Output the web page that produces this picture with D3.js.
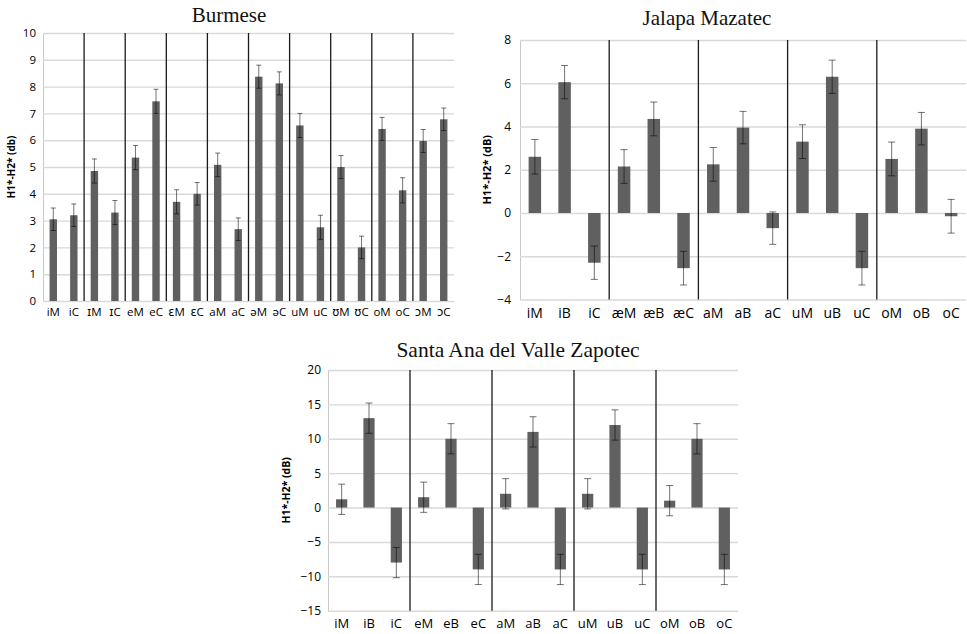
<!DOCTYPE html>
<html>
<head>
<meta charset="utf-8">
<script src="https://cdn.jsdelivr.net/npm/d3@7"></script>
<style>
  body { margin: 0; background: white; }
  svg { display: block; }
</style>
</head>
<body>
<div id="chart"></div>
<script>
// Burmese
var burCats = ["iM","iC","ɪM","ɪC","eM","eC","ɛM","ɛC","aM","aC","əM","əC","uM","uC","ʊM","ʊC","oM","oC","ɔM","ɔC"]
var burVals = [3.05, 3.2, 4.85, 3.3, 5.35, 7.45, 3.7, 4.0, 5.08, 2.68, 8.37, 8.12, 6.55, 2.75, 5.0, 2.0, 6.42, 4.13, 5.97, 6.78]
var burErr  = [0.42, 0.42, 0.45, 0.45, 0.45, 0.45, 0.45, 0.42, 0.44, 0.42, 0.43, 0.43, 0.45, 0.45, 0.43, 0.42, 0.43, 0.47, 0.43, 0.42]
var burTicks = [0, 1, 2, 3, 4, 5, 6, 7, 8, 9, 10]

// Jalapa Mazatec
var jalCats = ["iM","iB","iC","æM","æB","æC","aM","aB","aC","uM","uB","uC","oM","oB","oC"]
var jalVals = [2.6, 6.05, -2.3, 2.15, 4.35, -2.55, 2.25, 3.95, -0.7, 3.3, 6.3, -2.55, 2.5, 3.9, -0.15]
var jalErr  = [0.8, 0.77, 0.77, 0.78, 0.78, 0.78, 0.78, 0.75, 0.75, 0.78, 0.77, 0.78, 0.78, 0.75, 0.78]
var jalTicks = [-4, -2, 0, 2, 4, 6, 8]

// Santa Ana del Valle Zapotec
var sanCats = ["iM","iB","iC","eM","eB","eC","aM","aB","aC","uM","uB","uC","oM","oB","oC"]
var sanVals = [1.2, 13, -8, 1.5, 10, -9, 2, 11, -9, 2, 12, -9, 1, 10, -9]
var sanErr  = [2.2, 2.2, 2.2, 2.2, 2.2, 2.2, 2.2, 2.2, 2.2, 2.2, 2.2, 2.2, 2.2, 2.2, 2.2]
var sanTicks = [-15, -10, -5, 0, 5, 10, 15, 20]

var W = 967, H = 634
var svg = d3.select("#chart").append("svg").attr("width", W).attr("height", H)

var sansFont = "'Open Sans', 'DejaVu Sans', sans-serif"
var serifFont = "'Liberation Serif', 'Times New Roman', serif"

function drawPanel(p) {
    var g = svg.append("g")
    var data = p.cats.map(function(c, i) { return { cat: c, v: p.vals[i], e: p.errs[i] } })

    var x = d3.scaleBand().domain(p.cats).range([p.left, p.right]).padding(0)
    var y = d3.scaleLinear().domain(p.yDomain).range([p.bottom, p.top])

    // gridlines + tick labels
    var yAxis = d3.axisLeft(y)
        .tickValues(p.ticks)
        .tickSizeInner(-(p.right - p.left))
        .tickSizeOuter(0)
        .tickPadding(p.tickPad)
        .tickFormat(d3.format("d"))
    var ag = g.append("g")
        .attr("transform", "translate(" + p.left + ",0)")
        .call(yAxis)
    ag.select(".domain").attr("stroke", "#c8c8c8").attr("stroke-width", 1)
    ag.selectAll(".tick line").attr("stroke", "#d9d9d9").attr("stroke-width", 1.4)
    ag.selectAll(".tick text")
        .attr("font-family", sansFont)
        .attr("font-size", p.tickFont)
        .attr("fill", "#000")

    // bars
    var bw = x.bandwidth() * p.barFrac
    g.selectAll("rect.bar")
        .data(data)
        .enter()
        .append("rect")
        .attr("class", "bar")
        .attr("x", function(d) { return x(d.cat) + (x.bandwidth() - bw) / 2 })
        .attr("y", function(d) { return y(Math.max(0, d.v)) })
        .attr("width", bw)
        .attr("height", function(d) { return Math.abs(y(d.v) - y(0)) })
        .attr("fill", "#606060")

    // error bars
    var cap = p.cap
    var eb = g.selectAll("g.err")
        .data(data)
        .enter()
        .append("g")
        .attr("class", "err")
        .attr("stroke", "#000")
        .attr("stroke-opacity", 0.55)
        .attr("stroke-width", 1)
    eb.append("line")
        .attr("x1", function(d) { return x(d.cat) + x.bandwidth() / 2 })
        .attr("x2", function(d) { return x(d.cat) + x.bandwidth() / 2 })
        .attr("y1", function(d) { return y(d.v + d.e) })
        .attr("y2", function(d) { return y(d.v - d.e) })
    eb.append("line")
        .attr("x1", function(d) { return x(d.cat) + x.bandwidth() / 2 - cap })
        .attr("x2", function(d) { return x(d.cat) + x.bandwidth() / 2 + cap })
        .attr("y1", function(d) { return y(d.v + d.e) })
        .attr("y2", function(d) { return y(d.v + d.e) })
    eb.append("line")
        .attr("x1", function(d) { return x(d.cat) + x.bandwidth() / 2 - cap })
        .attr("x2", function(d) { return x(d.cat) + x.bandwidth() / 2 + cap })
        .attr("y1", function(d) { return y(d.v - d.e) })
        .attr("y2", function(d) { return y(d.v - d.e) })

    // group separators
    var seps = p.cats.filter(function(c, i) { return i > 0 && i % p.group == 0 })
    g.selectAll("line.sep")
        .data(seps)
        .enter()
        .append("line")
        .attr("class", "sep")
        .attr("x1", function(c) { return x(c) })
        .attr("x2", function(c) { return x(c) })
        .attr("y1", p.top)
        .attr("y2", p.bottom)
        .attr("stroke", "#1a1a1a")
        .attr("stroke-width", 1.3)

    // category labels
    g.selectAll("text.cat")
        .data(p.cats)
        .enter()
        .append("text")
        .attr("class", "cat")
        .attr("x", function(c) { return x(c) + x.bandwidth() / 2 })
        .attr("y", p.labelY)
        .attr("text-anchor", "middle")
        .attr("font-family", sansFont)
        .attr("font-size", p.labelFont)
        .attr("fill", "#000")
        .text(function(c) { return c })

    // y label
    g.append("text")
        .attr("text-anchor", "middle")
        .attr("transform", "translate(" + p.yLabelX + "," + ((p.top + p.bottom) / 2) + ") rotate(-90)")
        .attr("font-family", sansFont)
        .attr("font-weight", "bold")
        .attr("font-size", p.yLabelFont)
        .attr("fill", "#000")
        .text(p.yLabel)

    // title
    g.append("text")
        .attr("text-anchor", "middle")
        .attr("x", p.titleX)
        .attr("y", p.titleY)
        .attr("font-family", serifFont)
        .attr("font-size", p.titleFont)
        .attr("fill", "#111")
        .text(p.title)
}

drawPanel({
    cats: burCats, vals: burVals, errs: burErr, ticks: burTicks,
    yDomain: [0, 10], left: 43, right: 454, top: 33, bottom: 301,
    barFrac: 0.36, cap: 2.5, group: 2, tickPad: 7, tickFont: 11.5,
    labelY: 316, labelFont: 11.5,
    yLabel: "H1*-H2* (db)", yLabelX: 15, yLabelFont: 10,
    title: "Burmese", titleX: 229, titleY: 22, titleFont: 21
})

drawPanel({
    cats: jalCats, vals: jalVals, errs: jalErr, ticks: jalTicks,
    yDomain: [-4, 8], left: 520, right: 966, top: 40, bottom: 299.5,
    barFrac: 0.42, cap: 3.5, group: 3, tickPad: 9, tickFont: 12,
    labelY: 318, labelFont: 14,
    yLabel: "H1*-H2* (dB)", yLabelX: 491, yLabelFont: 11,
    title: "Jalapa Mazatec", titleX: 707, titleY: 25, titleFont: 21
})

drawPanel({
    cats: sanCats, vals: sanVals, errs: sanErr, ticks: sanTicks,
    yDomain: [-15, 20], left: 328, right: 738, top: 370, bottom: 610.7,
    barFrac: 0.41, cap: 3.5, group: 3, tickPad: 7, tickFont: 12,
    labelY: 628, labelFont: 13,
    yLabel: "H1*-H2* (dB)", yLabelX: 290, yLabelFont: 10.5,
    title: "Santa Ana del Valle Zapotec", titleX: 518, titleY: 357, titleFont: 21.5
})
</script>
</body>
</html>
